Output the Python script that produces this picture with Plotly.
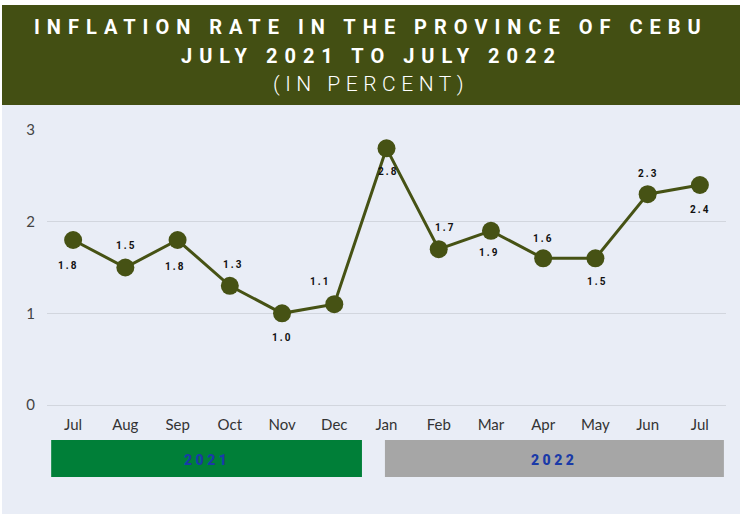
import plotly.graph_objects as go

months = ["Jul", "Aug", "Sep", "Oct", "Nov", "Dec", "Jan", "Feb", "Mar", "Apr", "May", "Jun", "Jul "]
tick_labels = ["Jul", "Aug", "Sep", "Oct", "Nov", "Dec", "Jan", "Feb", "Mar", "Apr", "May", "Jun", "Jul"]
inflation = [1.8, 1.5, 1.8, 1.3, 1.0, 1.1, 2.8, 1.7, 1.9, 1.6, 1.6, 2.3, 2.4]
value_labels = ["1.8", "1.5", "1.8", "1.3", "1.0", "1.1", "2.8", "1.7", "1.9", "1.6", "1.5", "2.3", "2.4"]
years = ["2021", "2022"]
y_ticks = [0, 1, 2, 3]

# label offsets (px) relative to each marker: (dx, dy) with dy positive = up
label_offsets = [(-5, -25), (1, 22), (-2, -26), (4, 21), (0, -24), (-14, 23), (2, -23),
                 (7, 22), (-1, -22), (0, 20), (2, -23), (1, 21), (1, -24)]
year_span = [(-0.42, 5.53), (5.97, 12.46)]
year_colors = ["#007f38", "#a6a6a6"]

W, H = 741, 517
L, R, T, B = 47, 15, 130, 112
ph = H - T - B
pw = W - L - R


def py(p):
    return (H - B - p) / ph


def px(p):
    return (p - L) / pw


OLIVE = "#465214"
BG = "#e9edf6"

fig = go.Figure()
fig.add_trace(go.Scatter(
    x=months, y=inflation, mode="lines+markers",
    line=dict(color=OLIVE, width=3),
    marker=dict(color=OLIVE, size=18),
    cliponaxis=False, hoverinfo="skip", showlegend=False,
))

shapes = [
    dict(type="rect", xref="paper", yref="paper", x0=px(0), x1=px(W), y0=py(H), y1=py(0),
         fillcolor="white", line=dict(width=0), layer="below"),
    dict(type="rect", xref="paper", yref="paper", x0=px(2), x1=px(740), y0=py(514), y1=py(105),
         fillcolor=BG, line=dict(width=0), layer="below"),
    dict(type="rect", xref="paper", yref="paper", x0=px(2), x1=px(740), y0=py(105), y1=py(5),
         fillcolor="#434f13", line=dict(width=0), layer="below"),
]
annotations = []
for m, v, lab, (dx, dy) in zip(months, inflation, value_labels, label_offsets):
    annotations.append(dict(xref="x", yref="y", x=m, y=v, text=lab, showarrow=False,
                            xshift=dx, yshift=dy, xanchor="center", yanchor="middle",
                            font=dict(family="Roboto", size=10, color="#111111", weight="bold")))

for yr, (a, b), c in zip(years, year_span, year_colors):
    shapes.append(dict(type="rect", xref="x", yref="paper", x0=a, x1=b, y0=py(477), y1=py(440),
                       fillcolor=c, line=dict(width=0), layer="above"))
    annotations.append(dict(xref="x", yref="paper", x=(a + b) / 2, y=py(460), text=yr, showarrow=False,
                            font=dict(family="Roboto", size=14, color="#1a3aa8", weight=900),
                            xanchor="center", yanchor="middle"))

title_lines = [("INFLATION RATE IN THE PROVINCE OF CEBU", 27, 20, "bold"),
               ("JULY 2021 TO JULY 2022", 56, 20, "bold"),
               ("(IN PERCENT)", 84, 21, 300)]
for txt, yy, sz, wt in title_lines:
    annotations.append(dict(xref="paper", yref="paper", x=px(371), y=py(yy), text=txt, showarrow=False,
                            font=dict(family="Roboto", size=sz, color="white", weight=wt),
                            xanchor="center", yanchor="middle"))

fig.update_layout(
    width=W, height=H, margin=dict(l=L, r=R, t=T, b=B),
    paper_bgcolor=BG, plot_bgcolor=BG,
    shapes=shapes, annotations=annotations,
    xaxis=dict(type="category", tickvals=months, ticktext=tick_labels, range=[-0.5, 12.5],
               showgrid=False, zeroline=False, showline=False,
               tickfont=dict(family="Lato", size=15, color="#333333"), ticks="outside", ticklen=6,
               tickcolor="rgba(0,0,0,0)"),
    yaxis=dict(range=[0, 3], tickvals=y_ticks, showgrid=True, gridcolor="#d2d6de", gridwidth=1,
               zeroline=True, zerolinecolor="#d2d6de", zerolinewidth=1, showline=False,
               tickfont=dict(family="Lato", size=15, color="#444444"), ticks="outside", ticklen=8,
               tickcolor="rgba(0,0,0,0)"),
)

post = """
(function(){
 document.body.style.margin='0';
 function apply(){
  var gd = document.getElementById('{plot_id}');
  gd.querySelectorAll('.annotation-text').forEach(function(t){
    var s = t.textContent;
    if (s.indexOf('INFLATION')===0 || s.indexOf('JULY')===0) t.style.letterSpacing='7px';
    else if (s.indexOf('(IN')===0) t.style.letterSpacing='5.5px';
    else if (/^\\d{4}$/.test(s)) t.style.letterSpacing='3.5px';
    else t.style.letterSpacing='2px';
  });
 }
 apply(); setTimeout(apply, 50); setTimeout(apply, 300);
})();
"""
fig.write_html("out.html", post_script=post, config={"displayModeBar": False})
